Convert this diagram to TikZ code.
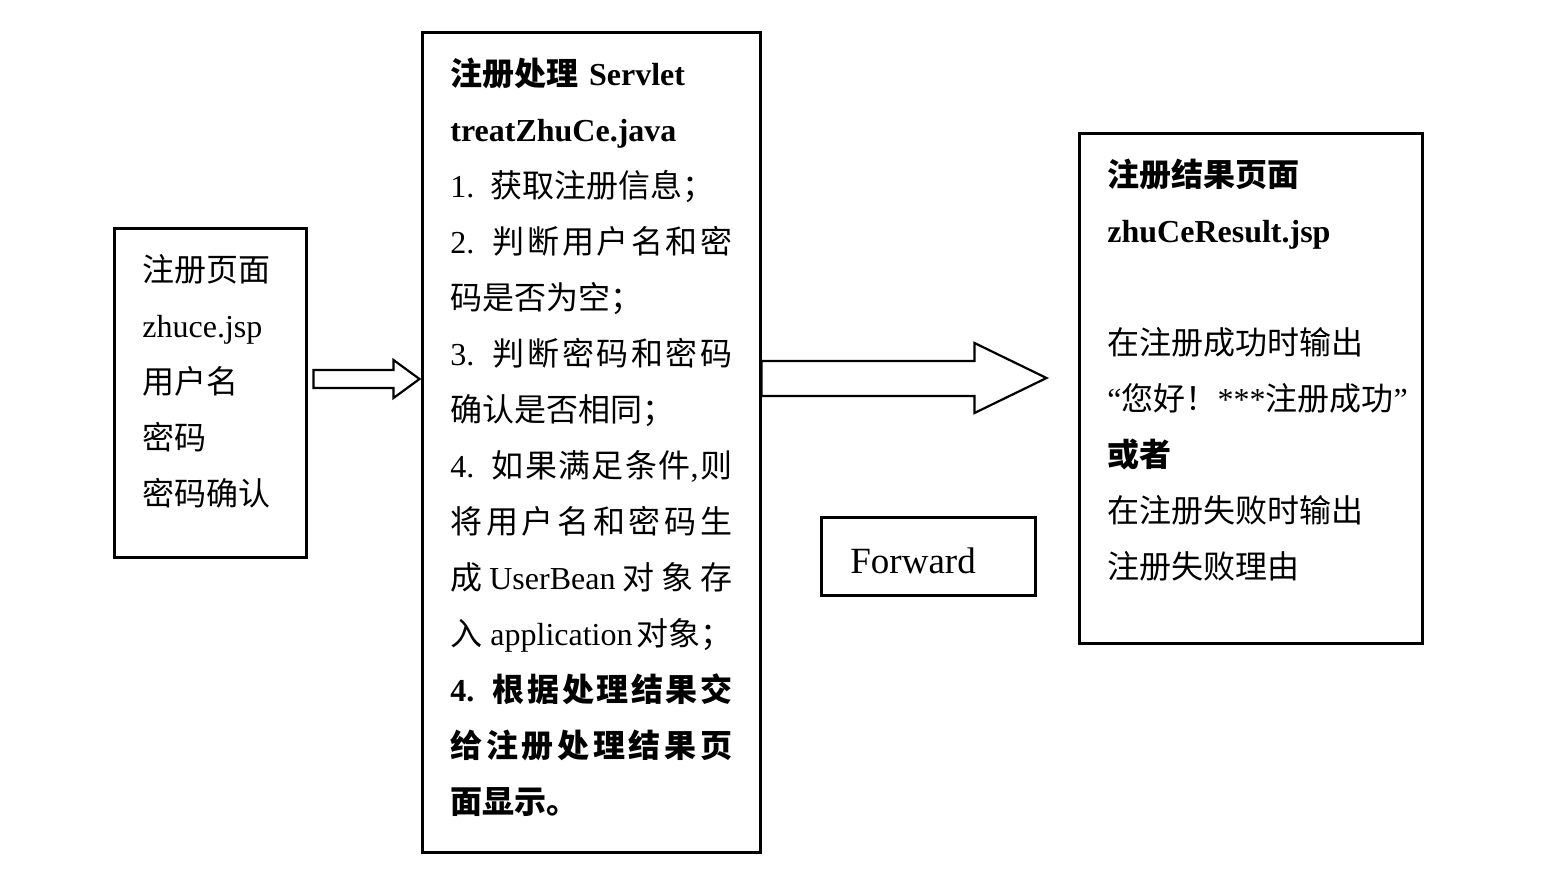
\documentclass[tikz,border=0pt]{standalone}
\usepackage{fontspec}
\setmainfont{Liberation Serif}
\newfontfamily\cjk{Noto Sans CJK SC}
\newcommand{\zh}[1]{{\cjk #1}}
\newcommand{\spread}[1]{\leavevmode\hbox to 141pt{\spaceskip=0pt plus 1fil minus 1fil\xspaceskip=\spaceskip #1}}
\usetikzlibrary{positioning,calc}

\tikzset{
  box/.style={draw,line width=1.5pt,inner sep=0pt},
  txt/.style={anchor=base west,align=left,inner sep=0pt,font=\fontsize{16}{28}\selectfont},
  blockarrow/.style={draw,line width=1.1pt,fill=white,line join=miter}
}

\begin{document}
\begin{tikzpicture}[x=0.5pt,y=-0.5pt]
  \useasboundingbox (0,0) rectangle (1542,873); % 画布大小
  \node[box,minimum width=96pt,minimum height=164.5pt] (reg) at (210,392.5) {}; % 注册页面方框
  \node[box,minimum width=169pt,minimum height=410pt] (srv) at (591,442) {}; % Servlet 方框
  \node[box,minimum width=171.5pt,minimum height=255pt] (res) at (1250.5,388) {}; % 结果页面方框
  \node[box,minimum width=107pt,minimum height=39pt] (fwd) at (928,556) {}; % Forward 方框
  \node[txt,text width=80pt] (regtxt) at (142,281) {\zh{注册页面}\\zhuce.jsp\\\zh{用户名}\\\zh{密码}\\\zh{密码确认}};
  \node[txt,text width=141pt] (srvtxt) at (450,85) {%
    \textbf{\zh{注册处理} Servlet}\\
    \textbf{treatZhuCe.java}\\
    1.\hspace{8pt}\zh{获取注册信息；}\\
    \spread{2.\hspace{8pt} \zh{判 断 用 户 名 和 密}}\\
    \zh{码是否为空；}\\
    \spread{3.\hspace{8pt} \zh{判 断 密 码 和 密 码}}\\
    \zh{确认是否相同；}\\
    \spread{4.\hspace{8pt} \zh{如 果 满 足 条 件}, \zh{则}}\\
    \spread{\zh{将 用 户 名 和 密 码 生}}\\
    \spread{\zh{成} UserBean \zh{对 象 存}}\\
    \mbox{\zh{入}\hspace{4pt}application\hspace{2pt}\zh{对象；}}\\
    \spread{\bfseries 4.\hspace{8pt} \zh{根 据 处 理 结 果 交}}\\
    \spread{\bfseries\zh{给 注 册 处 理 结 果 页}}\\
    \textbf{\zh{面显示。}}};
  \node[txt,text width=150pt] (restxt) at (1107,186) {%
    \textbf{\zh{注册结果页面}}\\
    \textbf{zhuCeResult.jsp}\\
    \mbox{}\\
    \zh{在注册成功时输出}\\
    “\zh{您好！}***\zh{注册成功}”\\
    \textbf{\zh{或者}}\\
    \zh{在注册失败时输出}\\
    \zh{注册失败理由}};
  \node[anchor=base west,inner sep=0pt,font=\fontsize{18.5}{22}\selectfont] (fwdtxt) at (850,573) {Forward};
  \draw[blockarrow] ($(reg.east)+(6,-22.5)$) -- ++(80,0) -- ++(0,-10) -- ++(26,19)
    -- ++(-26,19) -- ++(0,-10) -- ++(-80,0) -- cycle; % 注册页面 → Servlet
  \draw[blockarrow] ($(srv.east)+(0,-81)$) -- ++(213,0) -- ++(0,-18) -- ++(72,35)
    -- ++(-72,35) -- ++(0,-17) -- ++(-213,0) -- cycle; % Servlet → 结果页面
\end{tikzpicture}
\end{document}
